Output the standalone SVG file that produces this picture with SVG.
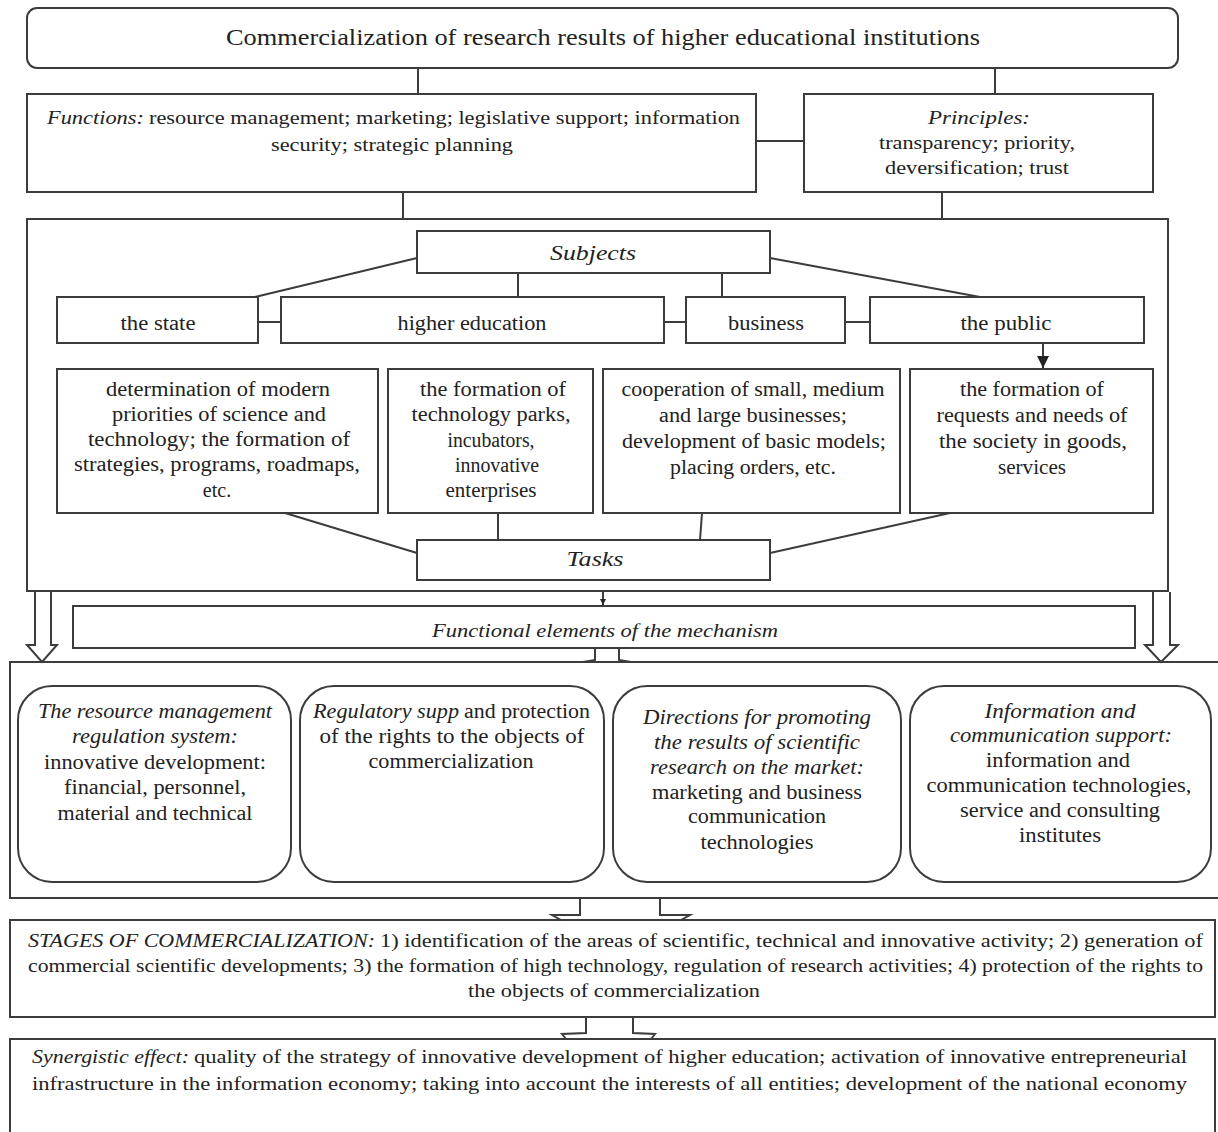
<svg xmlns="http://www.w3.org/2000/svg" width="1218" height="1132" viewBox="0 0 1218 1132">
<style>
.b{fill:#fff;stroke:#3c3c3c;stroke-width:2}
.c{fill:none;stroke:#3c3c3c;stroke-width:2}
.h{fill:#fff;stroke:#3c3c3c;stroke-width:2;stroke-linejoin:miter}
text{font-family:"Liberation Serif","Times New Roman",serif;fill:#222;font-size:20px}
.m{text-anchor:middle}
.i{font-style:italic}
.s{font-size:18px}
.t{font-size:23px}
</style>
<defs>
<marker id="ah" viewBox="0 0 10 10" refX="10" refY="5" markerWidth="6" markerHeight="6" orient="auto" markerUnits="userSpaceOnUse"><path d="M0,0 L10,5 L0,10 z" fill="#222"/></marker>
<marker id="ah2" viewBox="0 0 10 10" refX="10" refY="5" markerWidth="12" markerHeight="12" orient="auto" markerUnits="userSpaceOnUse"><path d="M0,0 L10,5 L0,10 z" fill="#222"/></marker>
</defs>
<rect width="1218" height="1132" fill="#fff"/>

<g id="title"><rect class="b" x="27" y="8" width="1151" height="60" rx="10"/>
<text class="t m" x="603" y="45" textLength="754" lengthAdjust="spacingAndGlyphs">Commercialization  of research results of higher educational institutions</text></g>

<g id="functions"><rect class="b" x="27" y="94" width="729" height="98"/>
<text class="s i" x="47" y="124" textLength="97" lengthAdjust="spacingAndGlyphs">Functions:</text>
<text class="s" x="149" y="124" textLength="591" lengthAdjust="spacingAndGlyphs">resource management; marketing; legislative support; information</text>
<text class="s m" x="392" y="151" textLength="242" lengthAdjust="spacingAndGlyphs">security; strategic planning</text></g>

<g id="principles"><rect class="b" x="804" y="94" width="349" height="98"/>
<text class="s i m" x="979" y="124" textLength="102" lengthAdjust="spacingAndGlyphs">Principles:</text>
<text class="s m" x="977" y="149" textLength="196" lengthAdjust="spacingAndGlyphs">transparency; priority,</text>
<text class="s m" x="977" y="174" textLength="184" lengthAdjust="spacingAndGlyphs">deversification; trust</text></g>

<g id="subjects-frame"><rect class="b" x="27" y="219" width="1141" height="372"/></g>

<g id="subjects"><rect class="b" x="417" y="231" width="353" height="42"/>
<text class="i m" x="593" y="260" textLength="86" lengthAdjust="spacingAndGlyphs">Subjects</text></g>

<g id="state"><rect class="b" x="57" y="297" width="201" height="46"/>
<text class="m" x="158" y="330" textLength="75" lengthAdjust="spacingAndGlyphs">the state</text></g>
<g id="higher-education"><rect class="b" x="281" y="297" width="383" height="46"/>
<text class="m" x="472" y="330" textLength="149" lengthAdjust="spacingAndGlyphs">higher education</text></g>
<g id="business"><rect class="b" x="686" y="297" width="159" height="46"/>
<text class="m" x="766" y="330" textLength="76" lengthAdjust="spacingAndGlyphs">business</text></g>
<g id="public"><rect class="b" x="870" y="297" width="274" height="46"/>
<text class="m" x="1006" y="330" textLength="91" lengthAdjust="spacingAndGlyphs">the public</text></g>

<g id="task-state"><rect class="b" x="57" y="369" width="321" height="144"/>
<text class="m" x="218" y="396" textLength="224" lengthAdjust="spacingAndGlyphs">determination of modern</text>
<text class="m" x="219" y="421" textLength="214" lengthAdjust="spacingAndGlyphs">priorities of science and</text>
<text class="m" x="219" y="446" textLength="262" lengthAdjust="spacingAndGlyphs">technology; the formation of</text>
<text class="m" x="217" y="471" textLength="286" lengthAdjust="spacingAndGlyphs">strategies, programs, roadmaps,</text>
<text class="m" x="217" y="497">etc.</text></g>

<g id="task-higher"><rect class="b" x="388" y="369" width="205" height="144"/>
<text class="m" x="493" y="396" textLength="146" lengthAdjust="spacingAndGlyphs">the formation of</text>
<text class="m" x="491" y="421" textLength="159" lengthAdjust="spacingAndGlyphs">technology parks,</text>
<text class="m" x="491" y="447" textLength="87" lengthAdjust="spacingAndGlyphs">incubators,</text>
<text class="m" x="497" y="472" textLength="84" lengthAdjust="spacingAndGlyphs">innovative</text>
<text class="m" x="491" y="497" textLength="91" lengthAdjust="spacingAndGlyphs">enterprises</text></g>

<g id="task-business"><rect class="b" x="603" y="369" width="297" height="144"/>
<text class="m" x="753" y="396" textLength="263" lengthAdjust="spacingAndGlyphs">cooperation of small, medium</text>
<text class="m" x="753" y="422" textLength="188" lengthAdjust="spacingAndGlyphs">and large businesses;</text>
<text class="m" x="754" y="448" textLength="264" lengthAdjust="spacingAndGlyphs">development of basic models;</text>
<text class="m" x="753" y="474" textLength="166" lengthAdjust="spacingAndGlyphs">placing orders, etc.</text></g>

<g id="task-public"><rect class="b" x="910" y="369" width="243" height="144"/>
<text class="m" x="1032" y="396" textLength="144" lengthAdjust="spacingAndGlyphs">the formation of</text>
<text class="m" x="1032" y="422" textLength="191" lengthAdjust="spacingAndGlyphs">requests and needs of</text>
<text class="m" x="1033" y="448" textLength="188" lengthAdjust="spacingAndGlyphs">the society in goods,</text>
<text class="m" x="1032" y="474" textLength="68" lengthAdjust="spacingAndGlyphs">services</text></g>

<g id="tasks"><rect class="b" x="417" y="540" width="353" height="40"/>
<text class="i m" x="595" y="566" textLength="57" lengthAdjust="spacingAndGlyphs">Tasks</text></g>

<g id="functional-elements"><rect class="b" x="73" y="606" width="1062" height="42"/>
<text class="s i m" x="605" y="637" textLength="346" lengthAdjust="spacingAndGlyphs">Functional elements of the mechanism</text></g>

<g id="elements-frame"><rect class="b" x="10" y="662" width="1215" height="236"/></g>

<g id="resource-system"><rect class="b" x="18" y="686" width="273" height="196" rx="34"/>
<text class="i m" x="155" y="718" textLength="234" lengthAdjust="spacingAndGlyphs">The resource management</text>
<text class="i m" x="155" y="743" textLength="166" lengthAdjust="spacingAndGlyphs">regulation system:</text>
<text class="m" x="155" y="769" textLength="222" lengthAdjust="spacingAndGlyphs">innovative development:</text>
<text class="m" x="155" y="794" textLength="182" lengthAdjust="spacingAndGlyphs">financial, personnel,</text>
<text class="m" x="155" y="820" textLength="195" lengthAdjust="spacingAndGlyphs">material and technical</text></g>

<g id="regulatory"><rect class="b" x="300" y="686" width="304" height="196" rx="34"/>
<text class="i" x="313" y="718" textLength="146" lengthAdjust="spacingAndGlyphs">Regulatory supp</text>
<text x="464" y="718" textLength="126" lengthAdjust="spacingAndGlyphs">and protection</text>
<text class="m" x="452" y="743" textLength="265" lengthAdjust="spacingAndGlyphs">of the rights to the objects of</text>
<text class="m" x="451" y="768" textLength="165" lengthAdjust="spacingAndGlyphs">commercialization</text></g>

<g id="directions"><rect class="b" x="613" y="686" width="288" height="196" rx="34"/>
<text class="i m" x="757" y="724" textLength="228" lengthAdjust="spacingAndGlyphs">Directions for promoting</text>
<text class="i m" x="757" y="749" textLength="206" lengthAdjust="spacingAndGlyphs">the results of scientific</text>
<text class="i m" x="757" y="774" textLength="214" lengthAdjust="spacingAndGlyphs">research on the market:</text>
<text class="m" x="757" y="799" textLength="210" lengthAdjust="spacingAndGlyphs">marketing and business</text>
<text class="m" x="757" y="823" textLength="138" lengthAdjust="spacingAndGlyphs">communication</text>
<text class="m" x="757" y="849" textLength="113" lengthAdjust="spacingAndGlyphs">technologies</text></g>

<g id="information"><rect class="b" x="910" y="686" width="301" height="196" rx="34"/>
<text class="i m" x="1060" y="718" textLength="151" lengthAdjust="spacingAndGlyphs">Information and</text>
<text class="i m" x="1061" y="742" textLength="222" lengthAdjust="spacingAndGlyphs">communication support:</text>
<text class="m" x="1058" y="767" textLength="144" lengthAdjust="spacingAndGlyphs">information and</text>
<text class="m" x="1059" y="792" textLength="265" lengthAdjust="spacingAndGlyphs">communication technologies,</text>
<text class="m" x="1060" y="817" textLength="200" lengthAdjust="spacingAndGlyphs">service and consulting</text>
<text class="m" x="1060" y="842" textLength="82" lengthAdjust="spacingAndGlyphs">institutes</text></g>

<g id="stages"><rect class="b" x="10" y="920" width="1205" height="97"/>
<text class="s i" x="28" y="947" textLength="347" lengthAdjust="spacingAndGlyphs">STAGES OF COMMERCIALIZATION:</text>
<text class="s" x="380" y="947" textLength="823" lengthAdjust="spacingAndGlyphs">1) identification of the areas of scientific, technical and innovative activity; 2) generation of</text>
<text class="s" x="28" y="972" textLength="1175" lengthAdjust="spacingAndGlyphs">commercial scientific developments; 3) the formation of high technology, regulation of research activities; 4) protection of the rights to</text>
<text class="s m" x="614" y="997" textLength="292" lengthAdjust="spacingAndGlyphs">the objects of commercialization</text></g>

<g id="synergistic"><rect class="b" x="10" y="1039" width="1205" height="110"/>
<text class="s i" x="32" y="1063" textLength="157" lengthAdjust="spacingAndGlyphs">Synergistic effect:</text>
<text class="s" x="194" y="1063" textLength="993" lengthAdjust="spacingAndGlyphs">quality of the strategy of innovative development of higher education; activation of innovative entrepreneurial</text>
<text class="s" x="32" y="1090" textLength="1155" lengthAdjust="spacingAndGlyphs">infrastructure in the information economy; taking into account the interests of all entities; development of the national economy</text></g>

<g id="connectors">
<line class="c" x1="418" y1="68" x2="418" y2="94"/>
<line class="c" x1="995" y1="68" x2="995" y2="94"/>
<line class="c" x1="756" y1="141" x2="804" y2="141"/>
<line class="c" x1="403" y1="192" x2="403" y2="219"/>
<line class="c" x1="942" y1="192" x2="942" y2="219"/>
<line class="c" x1="417" y1="258" x2="255" y2="297"/>
<line class="c" x1="518" y1="273" x2="518" y2="297"/>
<line class="c" x1="722" y1="273" x2="722" y2="297"/>
<line class="c" x1="770" y1="258" x2="980" y2="297"/>
<line class="c" x1="258" y1="322" x2="281" y2="322"/>
<line class="c" x1="664" y1="322" x2="686" y2="322"/>
<line class="c" x1="845" y1="322" x2="870" y2="322"/>
<line class="c" x1="1043" y1="343" x2="1043" y2="368" marker-end="url(#ah2)"/>
<line class="c" x1="285" y1="513" x2="417" y2="553"/>
<line class="c" x1="498" y1="513" x2="498" y2="540"/>
<line class="c" x1="702" y1="513" x2="700" y2="540"/>
<line class="c" x1="950" y1="513" x2="770" y2="553"/>
<line class="c" x1="603" y1="591" x2="603" y2="605" marker-end="url(#ah)"/>
<polyline class="h" points="35,592 35,645 27,645 42,662 57,645 51,645 51,592"/>
<polyline class="h" points="1153,592 1153,645 1145,645 1161,662 1178,645 1170,645 1170,592"/>
<polyline class="c" points="595,649 595,660 583,662"/>
<polyline class="c" points="619,649 619,660 631,662"/>
<polyline class="c" points="580,899 580,915 552,915 561,920"/>
<polyline class="c" points="660,899 660,915 690,915 681,920"/>
<polyline class="c" points="586,1018 586,1033 562,1034 566,1039"/>
<polyline class="c" points="633,1018 633,1033 655,1034 651,1039"/>
</g>
</svg>
